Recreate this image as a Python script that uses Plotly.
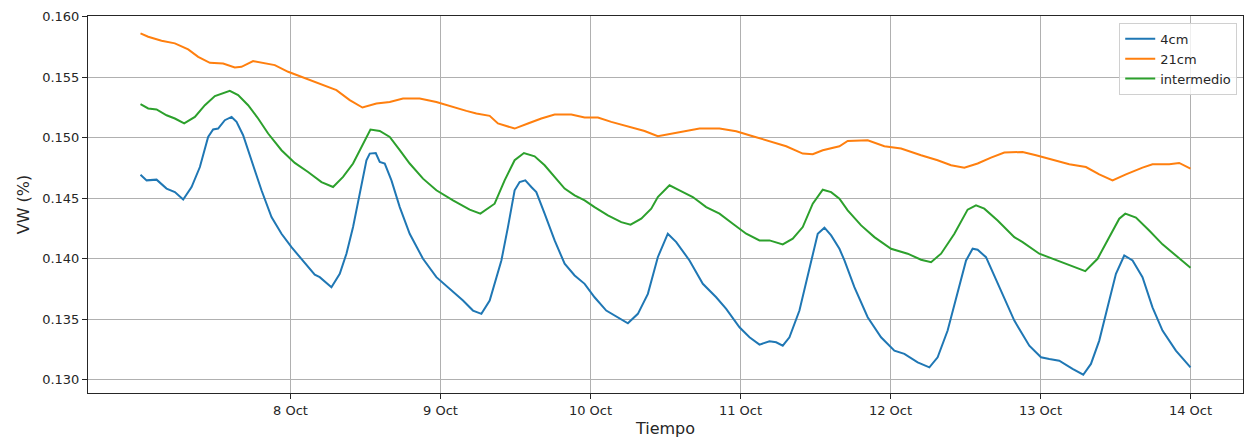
import pandas as pd
import plotly.graph_objects as go

# Soil volumetric water content at three depths, one week of readings
start = pd.Timestamp("2020-10-07 00:00")

hours_4cm = [0, 0.98, 2.57, 4.17, 5.50, 6.83, 8.17, 9.50, 10.82, 11.62, 12.42, 13.49, 14.57,
             15.37, 16.42, 17.76, 19.36, 20.96, 22.56, 24.16, 25.76, 27.88, 28.68, 30.55, 31.88,
             32.95, 34.01, 35.08, 36.15, 36.68, 37.64, 38.28, 39.08, 40.15, 41.48, 43.07, 45.20,
             47.34, 49.47, 51.60, 53.20, 54.54, 55.87, 56.66, 57.74, 58.79, 59.86, 60.66, 61.57,
             62.53, 63.33, 64.66, 66.26, 67.86, 69.46, 71.06, 72.65, 74.52, 76.38, 77.98, 79.58,
             81.18, 82.77, 83.85, 84.37, 85.72, 87.84, 89.97, 92.11, 93.71, 95.84, 97.44, 99.04,
             100.64, 101.71, 102.76, 103.83, 105.43, 107.03, 108.36, 109.43, 110.50, 111.83,
             112.63, 114.22, 116.35, 118.49, 120.62, 122.22, 124.35, 126.22, 127.54, 129.14,
             130.74, 132.09, 133.14, 133.94, 135.28, 137.14, 139.81, 142.21, 144.08, 145.41,
             147.00, 149.13, 150.84, 152.07, 153.40, 154.73, 156.07, 157.40, 158.73, 160.32,
             161.92, 163.52, 165.66, 168.0]
vw_4cm = [0.14694, 0.14647, 0.14653, 0.14579, 0.14550, 0.14488, 0.14592, 0.14757, 0.15006,
          0.15067, 0.15075, 0.15144, 0.15171, 0.15130, 0.15020, 0.14813, 0.14565, 0.14344,
          0.14206, 0.14095, 0.13999, 0.13867, 0.13847, 0.13764, 0.13875, 0.14041, 0.14261,
          0.14537, 0.14813, 0.14868, 0.14873, 0.14799, 0.14786, 0.14647, 0.14426, 0.14206,
          0.13999, 0.13847, 0.13751, 0.13654, 0.13571, 0.13544, 0.13654, 0.13792, 0.13985,
          0.14261, 0.14565, 0.14633, 0.14647, 0.14592, 0.14550, 0.14372, 0.14151, 0.13958,
          0.13861, 0.13792, 0.13681, 0.13571, 0.13516, 0.13466, 0.13544, 0.13709, 0.14012,
          0.14151, 0.14206, 0.14137, 0.13985, 0.13792, 0.13681, 0.13585, 0.13433, 0.13350,
          0.13290, 0.13317, 0.13309, 0.13281, 0.13350, 0.13571, 0.13930, 0.14206, 0.14256,
          0.14192, 0.14082, 0.13985, 0.13764, 0.13516, 0.13350, 0.13240, 0.13213, 0.13143,
          0.13102, 0.13185, 0.13406, 0.13709, 0.13985, 0.14082, 0.14074, 0.14012, 0.13792,
          0.13488, 0.13281, 0.13185, 0.13171, 0.13157, 0.13089, 0.13041, 0.13130, 0.13323,
          0.13598, 0.13875, 0.14026, 0.13985, 0.13847, 0.13598, 0.13406, 0.13240, 0.13102]

hours_21cm = [0, 1.23, 3.37, 5.50, 7.63, 9.23, 11.10, 13.22, 15.09, 16.16, 18.02, 19.62, 21.49,
              23.62, 25.76, 29.21, 31.35, 33.48, 35.51, 37.75, 39.88, 42.00, 44.67, 47.34,
              49.47, 52.14, 53.74, 55.87, 57.19, 59.86, 61.99, 64.13, 66.26, 68.93, 71.06,
              73.18, 75.32, 77.98, 80.65, 82.77, 85.17, 87.32, 89.44, 92.64, 95.31, 97.96,
              100.64, 103.31, 105.96, 107.56, 109.16, 111.83, 113.15, 116.35, 119.02, 121.69,
              124.89, 127.54, 129.69, 131.81, 133.94, 136.08, 138.21, 141.14, 143.28, 145.93,
              148.60, 151.27, 153.40, 155.53, 157.67, 160.32, 161.92, 164.59, 166.19, 168.0]
vw_21cm = [0.15862, 0.15834, 0.15800, 0.15779, 0.15729, 0.15668, 0.15618, 0.15613, 0.15580,
           0.15585, 0.15632, 0.15618, 0.15599, 0.15544, 0.15502, 0.15434, 0.15392, 0.15310,
           0.15249, 0.15282, 0.15295, 0.15324, 0.15324, 0.15295, 0.15260, 0.15221, 0.15199,
           0.15180, 0.15117, 0.15075, 0.15117, 0.15158, 0.15191, 0.15191, 0.15166, 0.15166,
           0.15130, 0.15094, 0.15055, 0.15012, 0.15034, 0.15055, 0.15075, 0.15075, 0.15053,
           0.15012, 0.14973, 0.14929, 0.14868, 0.14863, 0.14896, 0.14929, 0.14973, 0.14978,
           0.14929, 0.14910, 0.14854, 0.14813, 0.14772, 0.14752, 0.14786, 0.14835, 0.14877,
           0.14882, 0.14854, 0.14819, 0.14780, 0.14757, 0.14697, 0.14647, 0.14697, 0.14752,
           0.14780, 0.14780, 0.14791, 0.14744]

hours_mid = [0, 1.23, 2.57, 4.17, 5.50, 6.99, 8.70, 10.30, 11.90, 13.22, 14.29, 15.62, 17.22,
             18.82, 20.42, 22.56, 24.69, 26.81, 28.96, 30.81, 32.41, 34.01, 35.61, 36.79,
             38.28, 39.88, 41.48, 43.07, 45.20, 47.34, 50.00, 52.67, 54.38, 55.87, 56.66,
             58.26, 59.86, 61.35, 63.06, 64.66, 66.26, 67.86, 69.46, 71.06, 72.65, 74.78,
             76.92, 78.41, 80.12, 81.72, 82.77, 84.64, 86.24, 88.37, 90.51, 92.64, 94.77,
             96.91, 99.04, 100.64, 102.76, 104.36, 105.96, 107.56, 109.16, 110.50, 111.83,
             113.15, 115.30, 117.42, 120.09, 122.75, 124.89, 126.49, 128.09, 130.22, 132.34,
             133.68, 135.01, 137.14, 139.81, 141.14, 143.81, 145.93, 148.60, 151.16, 153.13,
             155.00, 156.60, 157.56, 159.27, 161.39, 163.52, 165.66, 168.0]
vw_mid = [0.15276, 0.15241, 0.15233, 0.15185, 0.15158, 0.15117, 0.15171, 0.15268, 0.15343,
          0.15365, 0.15387, 0.15351, 0.15268, 0.15158, 0.15034, 0.14896, 0.14791, 0.14716,
          0.14633, 0.14592, 0.14675, 0.14786, 0.14951, 0.15067, 0.15055, 0.15006, 0.14896,
          0.14786, 0.14661, 0.14565, 0.14482, 0.14405, 0.14372, 0.14426, 0.14454, 0.14647,
          0.14813, 0.14873, 0.14846, 0.14772, 0.14675, 0.14579, 0.14523, 0.14482, 0.14426,
          0.14358, 0.14302, 0.14281, 0.14330, 0.14413, 0.14509, 0.14606, 0.14565, 0.14509,
          0.14426, 0.14372, 0.14289, 0.14206, 0.14151, 0.14151, 0.14118, 0.14165, 0.14261,
          0.14454, 0.14570, 0.14550, 0.14496, 0.14399, 0.14275, 0.14178, 0.14082, 0.14041,
          0.13991, 0.13971, 0.14041, 0.14206, 0.14405, 0.14440, 0.14413, 0.14316, 0.14178,
          0.14137, 0.14041, 0.13999, 0.13949, 0.13897, 0.13999, 0.14178, 0.14330, 0.14372,
          0.14339, 0.14233, 0.14118, 0.14026, 0.13925]

series = [
    ("4cm", hours_4cm, vw_4cm, "#1f77b4"),
    ("21cm", hours_21cm, vw_21cm, "#ff7f0e"),
    ("intermedio", hours_mid, vw_mid, "#2ca02c"),
]

tick_days = ["2020-10-08", "2020-10-09", "2020-10-10", "2020-10-11",
             "2020-10-12", "2020-10-13", "2020-10-14"]
tick_text = ["8 Oct", "9 Oct", "10 Oct", "11 Oct", "12 Oct", "13 Oct", "14 Oct"]
y_ticks = [0.130, 0.135, 0.140, 0.145, 0.150, 0.155, 0.160]

fig = go.Figure()
for name, hrs, vals, color in series:
    t = start + pd.to_timedelta(hrs, unit="h")
    fig.add_trace(go.Scatter(x=t, y=vals, mode="lines", name=name,
                             line=dict(color=color, width=2)))

font = "DejaVu Sans, Arial, sans-serif"
fig.update_layout(
    width=1247, height=439,
    margin=dict(l=88, r=4, t=16, b=46),
    paper_bgcolor="white", plot_bgcolor="white",
    font=dict(family=font, size=13, color="#262626"),
    showlegend=True,
    legend=dict(x=0.995, xanchor="right", y=0.982, yanchor="top",
                bgcolor="rgba(255,255,255,0.8)", bordercolor="#d0d0d0", borderwidth=1,
                font=dict(size=13, color="#262626")),
)
fig.update_xaxes(
    range=[pd.Timestamp("2020-10-06 15:36"), pd.Timestamp("2020-10-14 08:24")],
    tickvals=pd.to_datetime(tick_days), ticktext=tick_text,
    showgrid=True, gridcolor="#b0b0b0", gridwidth=1,
    showline=True, linecolor="#262626", linewidth=1, mirror=True,
    ticks="outside", ticklen=5, tickcolor="#262626",
    zeroline=False,
    title=dict(text="Tiempo", font=dict(size=16, color="#262626"), standoff=6),
)
fig.update_yaxes(
    range=[0.1289, 0.16005],
    tickvals=y_ticks, tickformat=".3f",
    showgrid=True, gridcolor="#b0b0b0", gridwidth=1,
    showline=True, linecolor="#262626", linewidth=1, mirror=True,
    ticks="outside", ticklen=5, tickcolor="#262626",
    zeroline=False,
    title=dict(text="VW (%)", font=dict(size=16, color="#262626"), standoff=8),
)

fig.write_html("out.html")
